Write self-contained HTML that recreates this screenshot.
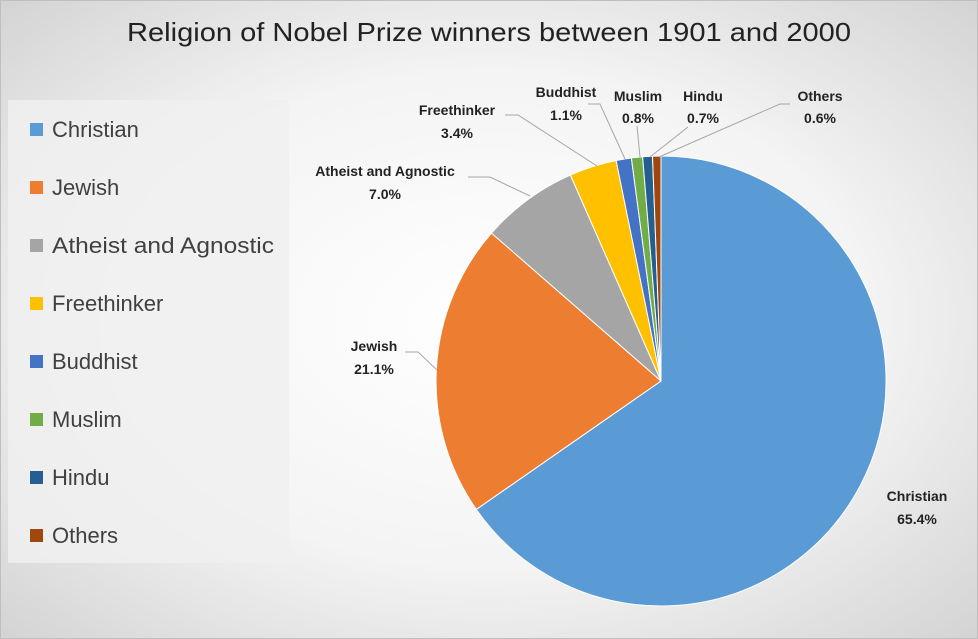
<!DOCTYPE html>
<html><head><meta charset="utf-8"><style>
html,body{margin:0;padding:0}
body{width:978px;height:639px;overflow:hidden}
svg{display:block;font-family:"Liberation Sans",sans-serif}
</style></head><body>
<svg width="978" height="639" viewBox="0 0 978 639" xmlns="http://www.w3.org/2000/svg">
<defs>
<radialGradient id="bg" cx="50%" cy="50%" r="70%">
<stop offset="0" stop-color="#ffffff"/>
<stop offset="0.55" stop-color="#f4f4f4"/>
<stop offset="1" stop-color="#d4d4d4"/>
</radialGradient>
</defs>
<rect x="0.5" y="0.5" width="977" height="638" fill="url(#bg)" stroke="#bfbfbf"/>
<text x="489" y="41" text-anchor="middle" font-size="26" fill="#222" textLength="724" lengthAdjust="spacingAndGlyphs">Religion of Nobel Prize winners between 1901 and 2000</text>

<rect x="8" y="100" width="281" height="463" fill="#f0f0f0" fill-opacity="0.85"/>
<g font-size="22" fill="#404040">
<rect x="30" y="123" width="13" height="13" fill="#5B9BD5"/><text x="52" y="137">Christian</text>
<rect x="30" y="181" width="13" height="13" fill="#ED7D31"/><text x="52" y="195">Jewish</text>
<rect x="30" y="239" width="13" height="13" fill="#A5A5A5"/><text x="52" y="253" textLength="222" lengthAdjust="spacingAndGlyphs">Atheist and Agnostic</text>
<rect x="30" y="297" width="13" height="13" fill="#FFC000"/><text x="52" y="311">Freethinker</text>
<rect x="30" y="355" width="13" height="13" fill="#4472C4"/><text x="52" y="369">Buddhist</text>
<rect x="30" y="413" width="13" height="13" fill="#70AD47"/><text x="52" y="427">Muslim</text>
<rect x="30" y="471" width="13" height="13" fill="#255E91"/><text x="52" y="485">Hindu</text>
<rect x="30" y="529" width="13" height="13" fill="#9E480E"/><text x="52" y="543">Others</text>
</g>

<g stroke="#fff" stroke-width="1">
<path d="M661,381 L661,156 A225,225 0 1 1 476.3,509.4 Z" fill="#5B9BD5"/>
<path d="M661,381 L476.3,509.4 A225,225 0 0 1 491.5,233.1 Z" fill="#ED7D31"/>
<path d="M661,381 L491.5,233.1 A225,225 0 0 1 570.4,175.0 Z" fill="#A5A5A5"/>
<path d="M661,381 L570.4,175.0 A225,225 0 0 1 616.1,160.5 Z" fill="#FFC000"/>
<path d="M661,381 L616.1,160.5 A225,225 0 0 1 631.4,158.0 Z" fill="#4472C4"/>
<path d="M661,381 L631.4,158.0 A225,225 0 0 1 642.6,156.7 Z" fill="#70AD47"/>
<path d="M661,381 L642.6,156.7 A225,225 0 0 1 652.5,156.2 Z" fill="#255E91"/>
<path d="M661,381 L652.5,156.2 A225,225 0 0 1 661,156 Z" fill="#9E480E"/>
</g>

<g stroke="#a6a6a6" stroke-width="1" fill="none">
<polyline points="405,352 418,352 437,370"/>
<polyline points="468,177 490,177 530,196"/>
<polyline points="505,115 518,115 597,166"/>
<polyline points="588,104 600,104 625,159"/>
<polyline points="637,126 640,157"/>
<polyline points="688,127 650,157"/>
<polyline points="790,104 780,104 659,157"/>
</g>

<g font-size="14" font-weight="bold" fill="#222" text-anchor="middle">
<text x="917" y="501">Christian</text><text x="917" y="524">65.4%</text>
<text x="374" y="351">Jewish</text><text x="374" y="374">21.1%</text>
<text x="385" y="176">Atheist and Agnostic</text><text x="385" y="199">7.0%</text>
<text x="457" y="115">Freethinker</text><text x="457" y="138">3.4%</text>
<text x="566" y="97">Buddhist</text><text x="566" y="120">1.1%</text>
<text x="638" y="101">Muslim</text><text x="638" y="123">0.8%</text>
<text x="703" y="101">Hindu</text><text x="703" y="123">0.7%</text>
<text x="820" y="101">Others</text><text x="820" y="123">0.6%</text>
</g>
</svg>
</body></html>
